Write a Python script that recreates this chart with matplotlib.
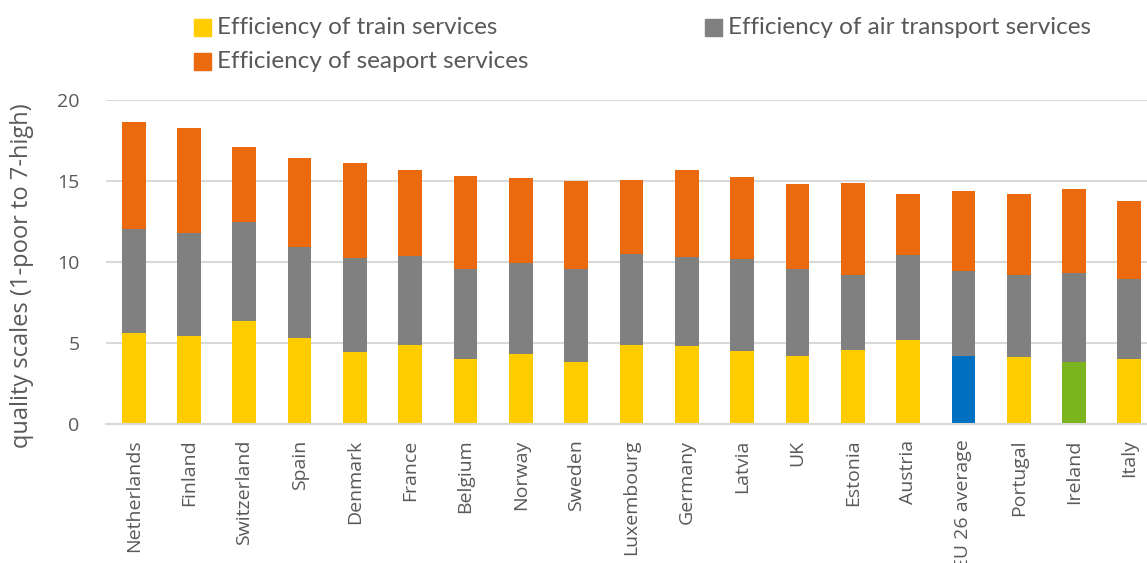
import matplotlib.pyplot as plt
from matplotlib.patches import Rectangle
import numpy as np

countries = ["Netherlands", "Finland", "Switzerland", "Spain", "Denmark", "France",
             "Belgium", "Norway", "Sweden", "Luxembourg", "Germany", "Latvia", "UK",
             "Estonia", "Austria", "EU 26 average", "Portugal", "Ireland", "Italy"]
train = [5.63, 5.44, 6.37, 5.30, 4.46, 4.87, 4.01, 4.36, 3.86, 4.89, 4.83, 4.52, 4.23,
         4.56, 5.18, 4.23, 4.15, 3.86, 4.03]
air = [6.39, 6.33, 6.12, 5.63, 5.77, 5.53, 5.59, 5.56, 5.71, 5.63, 5.48, 5.65, 5.32,
       4.64, 5.26, 5.22, 5.05, 5.49, 4.93]
sea = [6.60, 6.48, 4.60, 5.47, 5.90, 5.26, 5.69, 5.26, 5.43, 4.56, 5.35, 5.06, 5.26,
       5.66, 3.76, 4.93, 4.98, 5.14, 4.79]
series_names = ["Efficiency of train services", "Efficiency of air transport services",
                "Efficiency of seaport services"]

YELLOW, GREY, ORANGE = "#FFCC00", "#808080", "#EA6A0D"
# highlighted bars
train_colors = [YELLOW] * len(countries)
train_colors[countries.index("EU 26 average")] = "#0070C0"
train_colors[countries.index("Ireland")] = "#7AB51D"

text_col = "#595959"
grid_col = "#D9D9D9"

W, H = 1147, 563
fig = plt.figure(figsize=(W / 100, H / 100), dpi=100)
x0, x1 = 106, 1157
y0, y1 = 424.3, 100
ax = fig.add_axes([x0 / W, (H - y0) / H, (x1 - x0) / W, (y0 - y1) / H])

x = np.arange(len(countries))
bw = 0.43
ax.bar(x, train, bw, color=train_colors, zorder=3)
ax.bar(x, air, bw, bottom=train, color=GREY, zorder=3)
ax.bar(x, sea, bw, bottom=np.array(train) + np.array(air), color=ORANGE, zorder=3)

ax.set_xlim(-0.5, len(countries) - 0.5)
ax.set_ylim(0, 20)
ax.set_yticks([0, 5, 10, 15, 20])
ax.yaxis.grid(True, color=grid_col, linewidth=1.5, zorder=0)
for s in ["top", "right", "left"]:
    ax.spines[s].set_visible(False)
ax.spines["bottom"].set_color(grid_col)
ax.spines["bottom"].set_linewidth(1.5)
ax.spines["bottom"].set_zorder(4)
ax.tick_params(axis="both", length=0, colors=text_col)
ax.tick_params(axis="y", pad=19, labelsize=14)
ax.tick_params(axis="x", pad=11, labelsize=14)
ax.set_xticks(x)
ax.set_xticklabels(countries, rotation=90, fontfamily="Open Sans")
for lab in ax.get_yticklabels():
    lab.set_fontfamily("Open Sans")

fig.text(22 / W, 1 - 276 / H, "quality scales (1-poor to 7-high)", rotation=90,
         ha="center", va="center", color=text_col, fontsize=17, fontfamily="Open Sans")

# legend, laid out by hand: (marker left px, row centre px)
legend_pos = [(194, 27), (705, 27), (194, 61)]
for name, col, (lx, ly) in zip(series_names, [YELLOW, GREY, ORANGE], legend_pos):
    fig.patches.append(Rectangle((lx / W, 1 - (ly + 8.5) / H), 17 / W, 17 / H,
                                 transform=fig.transFigure, color=col))
    fig.text((lx + 23) / W, 1 - (ly + 1) / H, name, ha="left", va="center",
             color=text_col, fontsize=17.5, fontfamily="Lato")

fig.savefig("out.png", dpi=100)
